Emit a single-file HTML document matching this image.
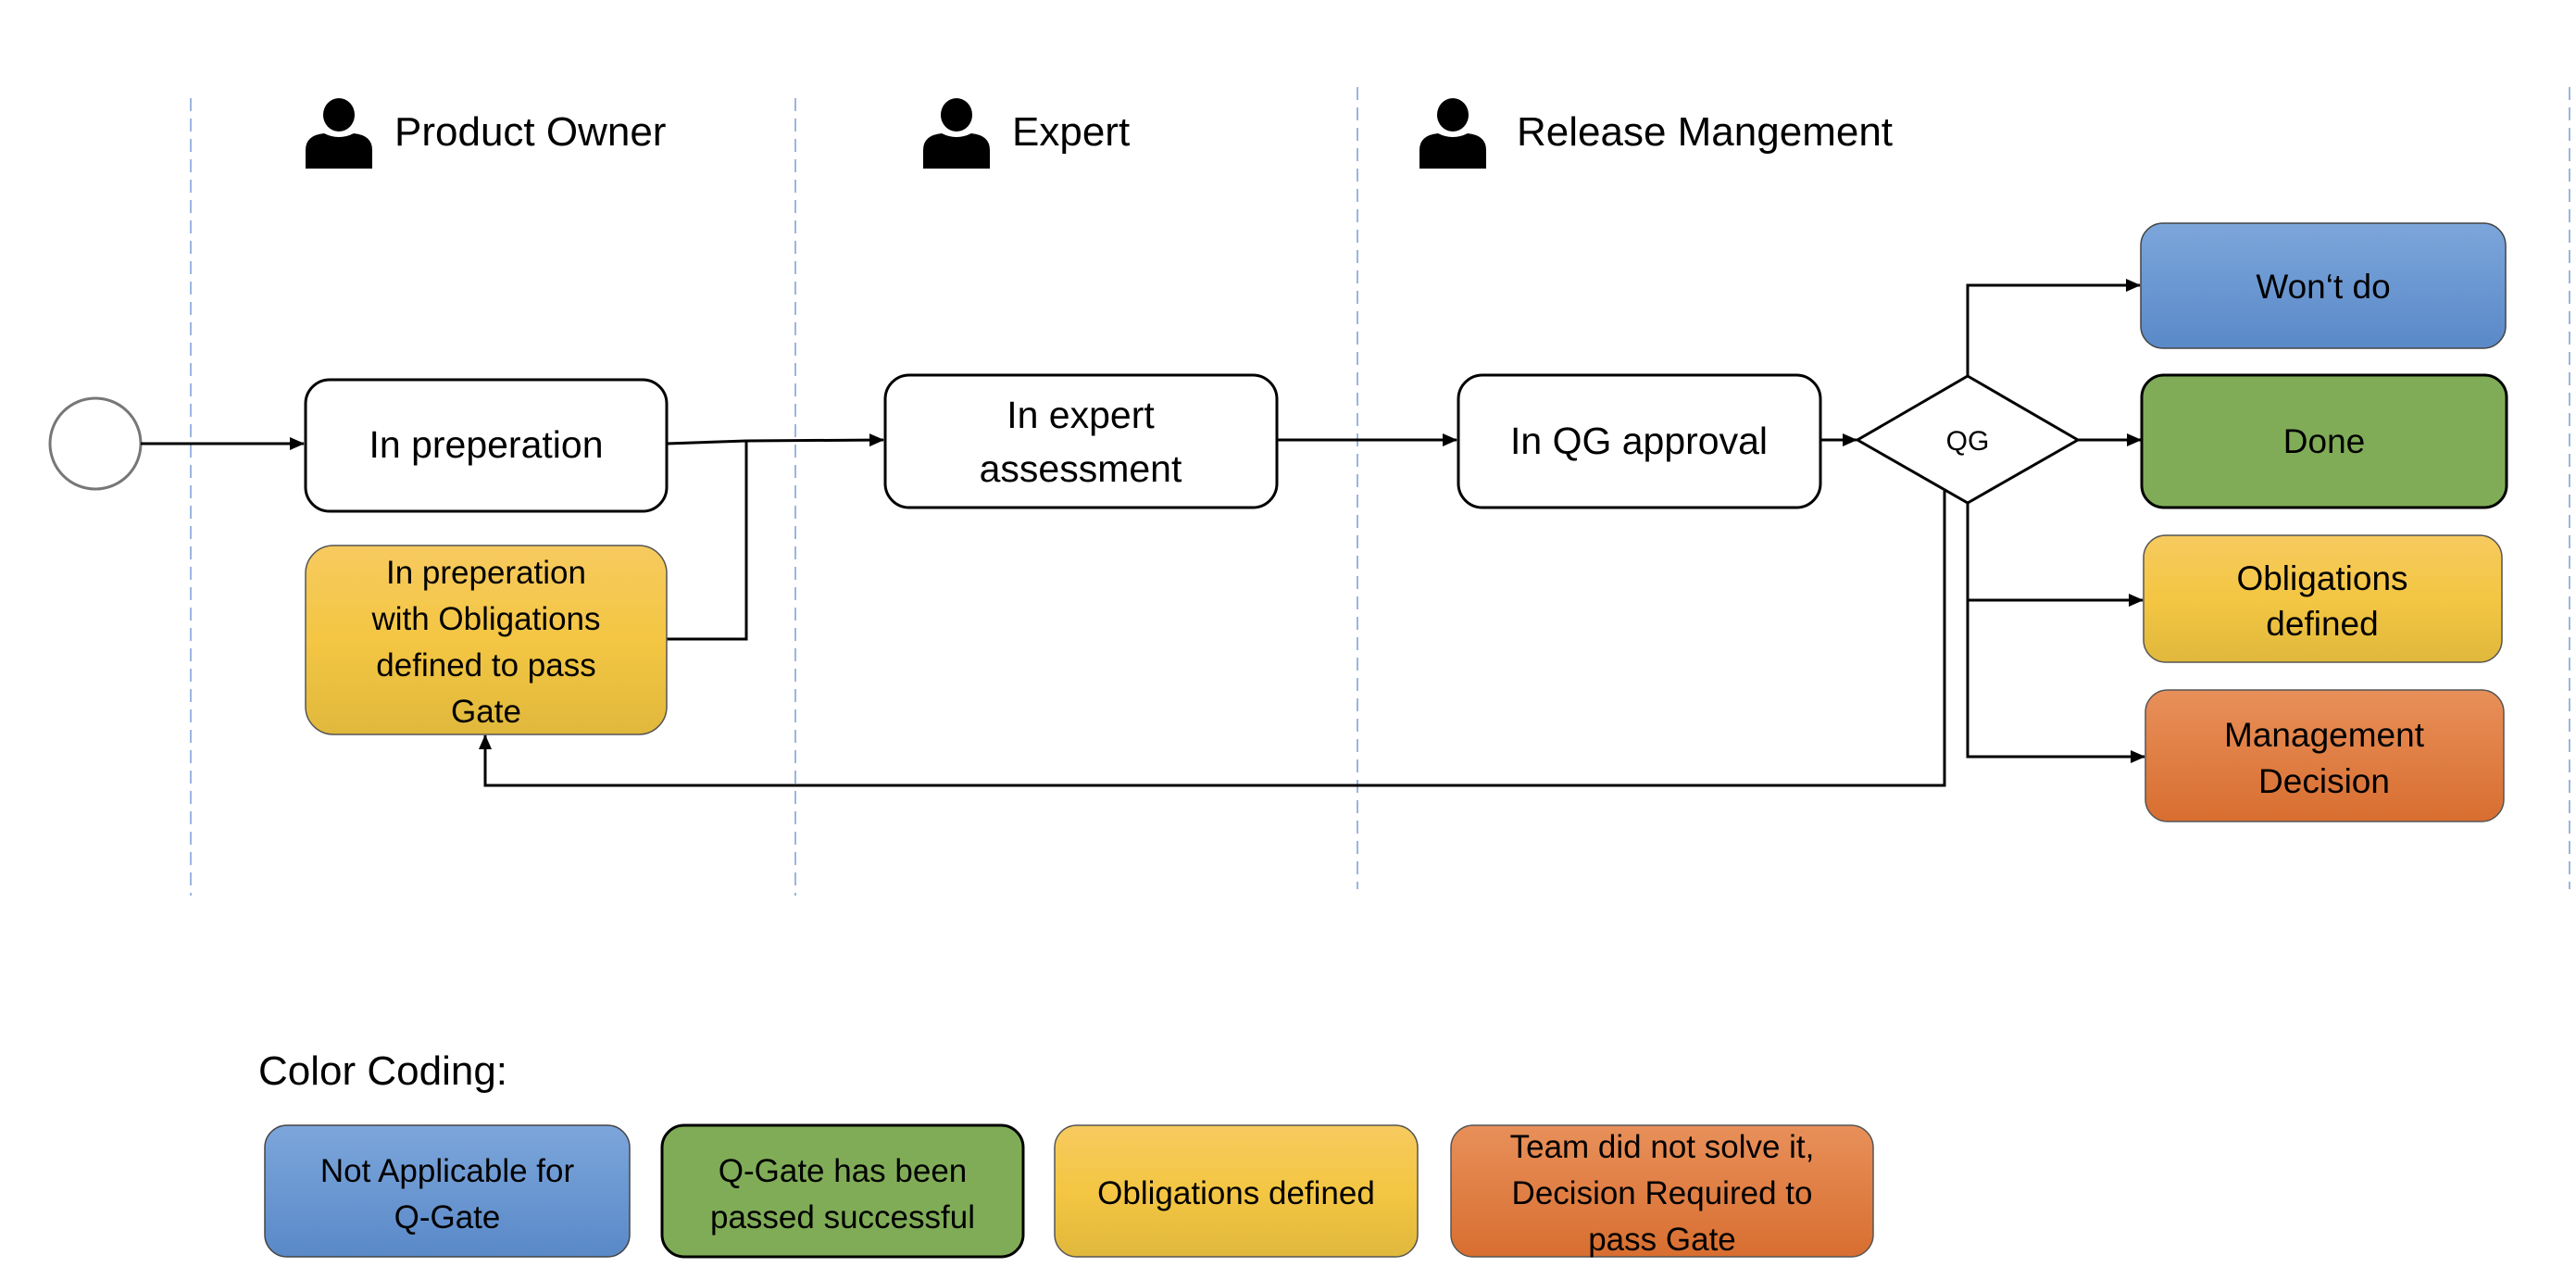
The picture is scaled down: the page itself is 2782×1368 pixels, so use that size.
<!DOCTYPE html>
<html><head><meta charset="utf-8"><style>
html,body{margin:0;padding:0;background:#fff;}
svg{display:block;}
text{font-family:"Liberation Sans Narrow","Liberation Sans",sans-serif;fill:#000;}
</style></head><body>
<svg width="2782" height="1368" viewBox="0 0 2782 1368" xmlns="http://www.w3.org/2000/svg">
<defs>
<linearGradient id="gb" x1="0" y1="0" x2="0" y2="1"><stop offset="0" stop-color="#7ca6db"/><stop offset="1" stop-color="#5a89c8"/></linearGradient>
<linearGradient id="gy" x1="0" y1="0" x2="0" y2="1"><stop offset="0" stop-color="#f6ca5f"/><stop offset="0.5" stop-color="#f4c643"/><stop offset="1" stop-color="#e0b83c"/></linearGradient>
<linearGradient id="go" x1="0" y1="0" x2="0" y2="1"><stop offset="0" stop-color="#e8905a"/><stop offset="1" stop-color="#d86e30"/></linearGradient>
<marker id="ar" markerWidth="16" markerHeight="16" refX="15" refY="8" orient="auto" markerUnits="userSpaceOnUse"><path d="M0,1 L16,8 L0,15 z" fill="#000"/></marker>
<symbol id="person" viewBox="0 0 72 76"><ellipse cx="36" cy="18" rx="17" ry="18" fill="#000"/><path d="M0,76 V56 Q0,40 20,38 Q36,46 52,38 Q72,40 72,56 V76 z" fill="#000"/></symbol>
</defs>
<g stroke="#9bb5e0" stroke-width="2" stroke-dasharray="14,8">
<line x1="206" y1="106" x2="206" y2="967"/>
<line x1="859" y1="106" x2="859" y2="967"/>
<line x1="1466" y1="94" x2="1466" y2="960"/>
<line x1="2775" y1="94" x2="2775" y2="960"/>
</g>
<use href="#person" x="330" y="106" width="72" height="76"/>
<text x="426" y="157" font-size="44">Product Owner</text>
<use href="#person" x="997" y="106" width="72" height="76"/>
<text x="1093" y="157" font-size="44">Expert</text>
<use href="#person" x="1533" y="106" width="72" height="76"/>
<text x="1638" y="157" font-size="44">Release Mangement</text>

<circle cx="103" cy="479" r="49" fill="#fff" stroke="#777" stroke-width="3"/>
<g fill="none" stroke="#000" stroke-width="3">
<line x1="152" y1="479" x2="328" y2="479" marker-end="url(#ar)"/>
<polyline points="720,479 806,476 954,475" marker-end="url(#ar)"/>
<polyline points="720,690 806,690 806,476"/>
<line x1="1379" y1="475" x2="1573" y2="475" marker-end="url(#ar)"/>
<line x1="1966" y1="475" x2="2005" y2="475" marker-end="url(#ar)"/>
<polyline points="2125,406 2125,308 2311,308" marker-end="url(#ar)"/>
<line x1="2244" y1="475" x2="2312" y2="475" marker-end="url(#ar)"/>
<polyline points="2125,543 2125,817 2316,817" marker-end="url(#ar)"/>
<line x1="2125" y1="648" x2="2314" y2="648" marker-end="url(#ar)"/>
<polyline points="2100,530 2100,848 524,848 524,794" marker-end="url(#ar)"/>
</g>

<rect x="330" y="410" width="390" height="142" rx="26" fill="#fff" stroke="#000" stroke-width="3"/>
<text x="525" y="494" font-size="41" text-anchor="middle">In preperation</text>
<rect x="330" y="589" width="390" height="204" rx="30" fill="url(#gy)" stroke="#555" stroke-width="1.5"/>
<text font-size="35" text-anchor="middle"><tspan x="525" y="630">In preperation</tspan><tspan x="525" y="680">with Obligations</tspan><tspan x="525" y="730">defined to pass</tspan><tspan x="525" y="780">Gate</tspan></text>

<rect x="956" y="405" width="423" height="143" rx="26" fill="#fff" stroke="#000" stroke-width="3"/>
<text font-size="41" text-anchor="middle"><tspan x="1167" y="462">In expert</tspan><tspan x="1167" y="520">assessment</tspan></text>

<rect x="1575" y="405" width="391" height="143" rx="26" fill="#fff" stroke="#000" stroke-width="3"/>
<text x="1770" y="490" font-size="41" text-anchor="middle">In QG approval</text>

<polygon points="2125,406 2244,475 2125,543 2006,475" fill="#fff" stroke="#000" stroke-width="3"/>
<text x="2125" y="486" font-size="30" text-anchor="middle">QG</text>

<rect x="2312" y="241" width="394" height="135" rx="24" fill="url(#gb)" stroke="#444" stroke-width="1.5"/>
<text x="2509" y="322" font-size="37" text-anchor="middle">Won‘t do</text>
<rect x="2313" y="405" width="394" height="143" rx="24" fill="#80ac57" stroke="#000" stroke-width="3"/>
<text x="2510" y="489" font-size="37" text-anchor="middle">Done</text>
<rect x="2315" y="578" width="387" height="137" rx="24" fill="url(#gy)" stroke="#555" stroke-width="1.5"/>
<text font-size="37" text-anchor="middle"><tspan x="2508" y="637">Obligations</tspan><tspan x="2508" y="686">defined</tspan></text>
<rect x="2317" y="745" width="387" height="142" rx="24" fill="url(#go)" stroke="#555" stroke-width="1.5"/>
<text font-size="37" text-anchor="middle"><tspan x="2510" y="806">Management</tspan><tspan x="2510" y="856">Decision</tspan></text>

<text x="279" y="1171" font-size="44">Color Coding:</text>

<rect x="286" y="1215" width="394" height="142" rx="24" fill="url(#gb)" stroke="#444" stroke-width="1.5"/>
<text font-size="35" text-anchor="middle"><tspan x="483" y="1276">Not Applicable for</tspan><tspan x="483" y="1326">Q-Gate</tspan></text>
<rect x="715" y="1215" width="390" height="142" rx="24" fill="#80ac57" stroke="#000" stroke-width="3"/>
<text font-size="35" text-anchor="middle"><tspan x="910" y="1276">Q-Gate has been</tspan><tspan x="910" y="1326">passed successful</tspan></text>
<rect x="1139" y="1215" width="392" height="142" rx="24" fill="url(#gy)" stroke="#555" stroke-width="1.5"/>
<text x="1335" y="1300" font-size="35" text-anchor="middle">Obligations defined</text>
<rect x="1567" y="1215" width="456" height="142" rx="24" fill="url(#go)" stroke="#555" stroke-width="1.5"/>
<text font-size="35" text-anchor="middle"><tspan x="1795" y="1250">Team did not solve it,</tspan><tspan x="1795" y="1300">Decision Required to</tspan><tspan x="1795" y="1350">pass Gate</tspan></text>
</svg>
</body></html>
